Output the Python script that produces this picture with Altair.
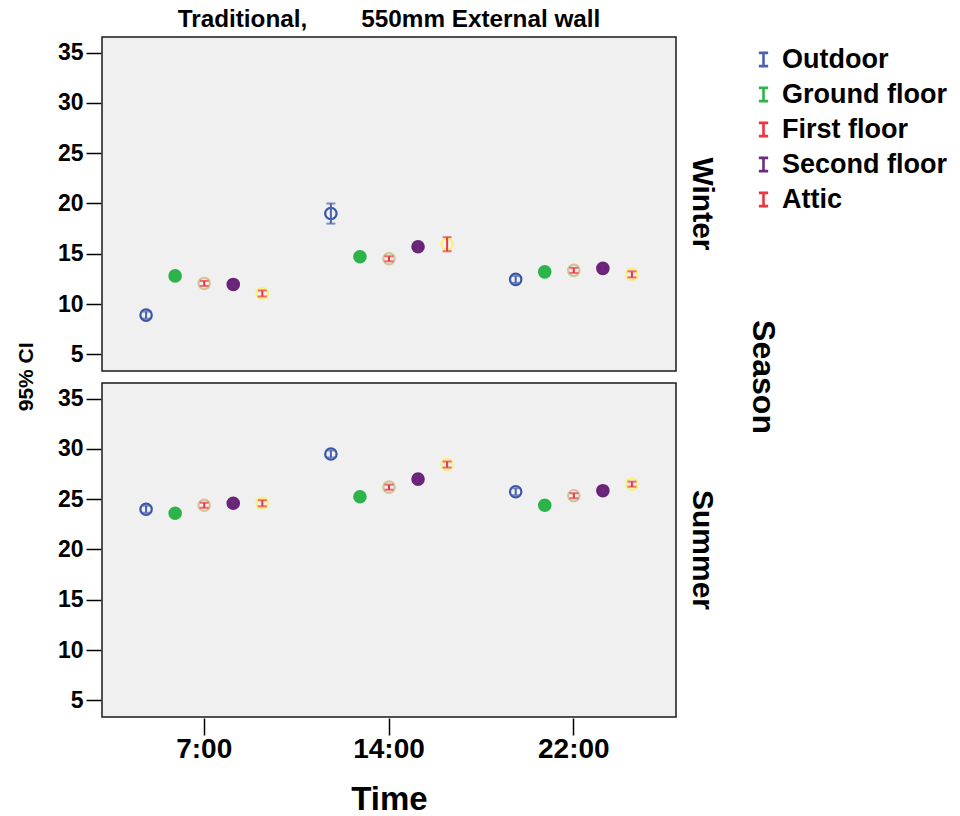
import altair as alt
import pandas as pd

F = "Liberation Sans, Arial, sans-serif"
TITLE = "\u00a0\u00a0Traditional," + "\u00a0" * 8 + "550mm External wall"

series = ["Outdoor", "Ground floor", "First floor", "Second floor", "Attic"]
times = ["7:00", "14:00", "22:00"]
seasons = ["Winter", "Summer"]

# means at 7:00, 14:00, 22:00
winter_mean = {
    "Outdoor": [8.9, 19.0, 12.45],
    "Ground floor": [12.8, 14.7, 13.2],
    "First floor": [12.05, 14.5, 13.35],
    "Second floor": [11.95, 15.7, 13.55],
    "Attic": [11.05, 15.95, 12.95],
}
winter_half = {
    "Outdoor": [0.35, 1.0, 0.35],
    "Ground floor": [0.3, 0.3, 0.3],
    "First floor": [0.25, 0.25, 0.25],
    "Second floor": [0.25, 0.4, 0.3],
    "Attic": [0.3, 0.7, 0.3],
}
summer_mean = {
    "Outdoor": [24.0, 29.5, 25.75],
    "Ground floor": [23.6, 25.25, 24.4],
    "First floor": [24.4, 26.2, 25.35],
    "Second floor": [24.6, 27.0, 25.85],
    "Attic": [24.6, 28.45, 26.5],
}
summer_half = {
    "Outdoor": [0.35, 0.35, 0.35],
    "Ground floor": [0.3, 0.3, 0.3],
    "First floor": [0.25, 0.25, 0.25],
    "Second floor": [0.3, 0.3, 0.3],
    "Attic": [0.3, 0.3, 0.25],
}

bar_colors = ["#4a62b0", "#2db54a", "#ef3340", "#6e2a80", "#ef3340"]
ring_colors = ["#3b55a6", "#2cb34a", "#d2c597", "#6a2477", "#f6f27a"]
fill_colors = ["transparent", "#2cb34a", "transparent", "#6a2477", "transparent"]
marker_keys = ["m_" + s for s in series]

rows = []
for season, means, halves in [("Winter", winter_mean, winter_half),
                              ("Summer", summer_mean, summer_half)]:
    for k, s in enumerate(series):
        for i, t in enumerate(times):
            m = means[s][i]
            h = halves[s][i]
            rows.append(dict(season=season, time=t, series=s, marker=marker_keys[k],
                             mean=m, lo=m - h, hi=m + h, wall=TITLE))
df = pd.DataFrame(rows)

yscale = alt.Scale(domain=[3.34, 36.56], nice=False, zero=False)
yaxis = alt.Axis(title=None, values=[5, 10, 15, 20, 25, 30, 35])
x = alt.X("time:N", sort=times, title="Time",
          scale=alt.Scale(paddingOuter=0.053, paddingInner=0),
          axis=alt.Axis(title="Time", labelAngle=0))
xo = alt.XOffset("marker:N", sort=marker_keys,
                 scale=alt.Scale(paddingOuter=0.68, paddingInner=0))

pts = alt.Chart().mark_point(shape="circle", size=130, strokeWidth=2.2, opacity=1).encode(
    x=x, xOffset=xo,
    y=alt.Y("mean:Q", scale=yscale, axis=yaxis),
    stroke=alt.Stroke("marker:N", scale=alt.Scale(domain=marker_keys, range=ring_colors), legend=None),
    fill=alt.Fill("marker:N", scale=alt.Scale(domain=marker_keys, range=fill_colors), legend=None),
)

color = alt.Color(
    "series:N", sort=series,
    scale=alt.Scale(domain=series, range=bar_colors),
    legend=alt.Legend(
        title=None, orient="none", legendX=648, legendY=9,
        symbolType="M-0.7,-1H0.7M0,-1V1M-0.7,1H0.7",
        symbolSize=175, symbolStrokeWidth=2.6, symbolFillColor="transparent",
        symbolOpacity=1,
        labelFontSize=27, labelFontWeight="bold", labelFont=F, labelColor="#000000",
        labelOffset=5, rowPadding=7, labelLimit=0,
    ),
)

rules = alt.Chart().mark_rule(strokeWidth=2).encode(
    x=x, xOffset=xo,
    y=alt.Y("lo:Q", scale=yscale, axis=yaxis), y2="hi:Q",
    color=color,
)

caps = alt.Chart().transform_fold(["lo", "hi"], as_=["end", "val"]).mark_tick(
    thickness=2, size=9).encode(
    x=x, xOffset=xo,
    y=alt.Y("val:Q", scale=yscale, axis=yaxis),
    color=color,
)

layer = alt.layer(pts, rules, caps).properties(width=574, height=334)

chart = alt.FacetChart(
    data=df,
    spec=layer,
    facet=alt.FacetMapping(
        row=alt.Facet("season:N", sort=seasons, header=alt.Header(
            title="Season", titleOrient="right", titleAngle=90,
            titleFontSize=32, titleFontWeight="bold", titleFont=F, titleColor="#000000",
            titlePadding=19,
            labelOrient="right", labelAngle=90, labelFontSize=30,
            labelFontWeight="bold", labelFont=F, labelColor="#000000", labelPadding=10)),
        column=alt.Facet("wall:N", header=alt.Header(
            title=None, labelFontSize=24.3, labelFontWeight="bold", labelFont=F,
            labelColor="#000000", labelPadding=4)),
    ),
    spacing={"row": 10, "column": 0},
).properties(
    title=alt.TitleParams("95% CI", orient="left", anchor="middle", frame="bounds",
                          fontSize=21, fontWeight="bold", font=F, color="#000000",
                          offset=20, dx=35),
    padding={"left": 16, "top": 7, "right": 5, "bottom": 5},
    background="#ffffff",
).configure_view(
    fill="#f0f0f0", stroke="#1a1a1a", strokeWidth=1.5
).configure_axis(
    grid=False, domain=False, tickColor="#000000", tickWidth=1.5,
    labelFont=F, labelFontWeight="bold", labelColor="#000000",
    titleFont=F, titleFontWeight="bold", titleColor="#000000",
).configure_axisY(
    labelFontSize=23, tickSize=15, labelPadding=3,
).configure_axisX(
    labelFontSize=28, tickSize=17, labelPadding=0, titleFontSize=33, titlePadding=20,
)

chart.save("out.html", embed_options={"renderer": "svg", "actions": False})
